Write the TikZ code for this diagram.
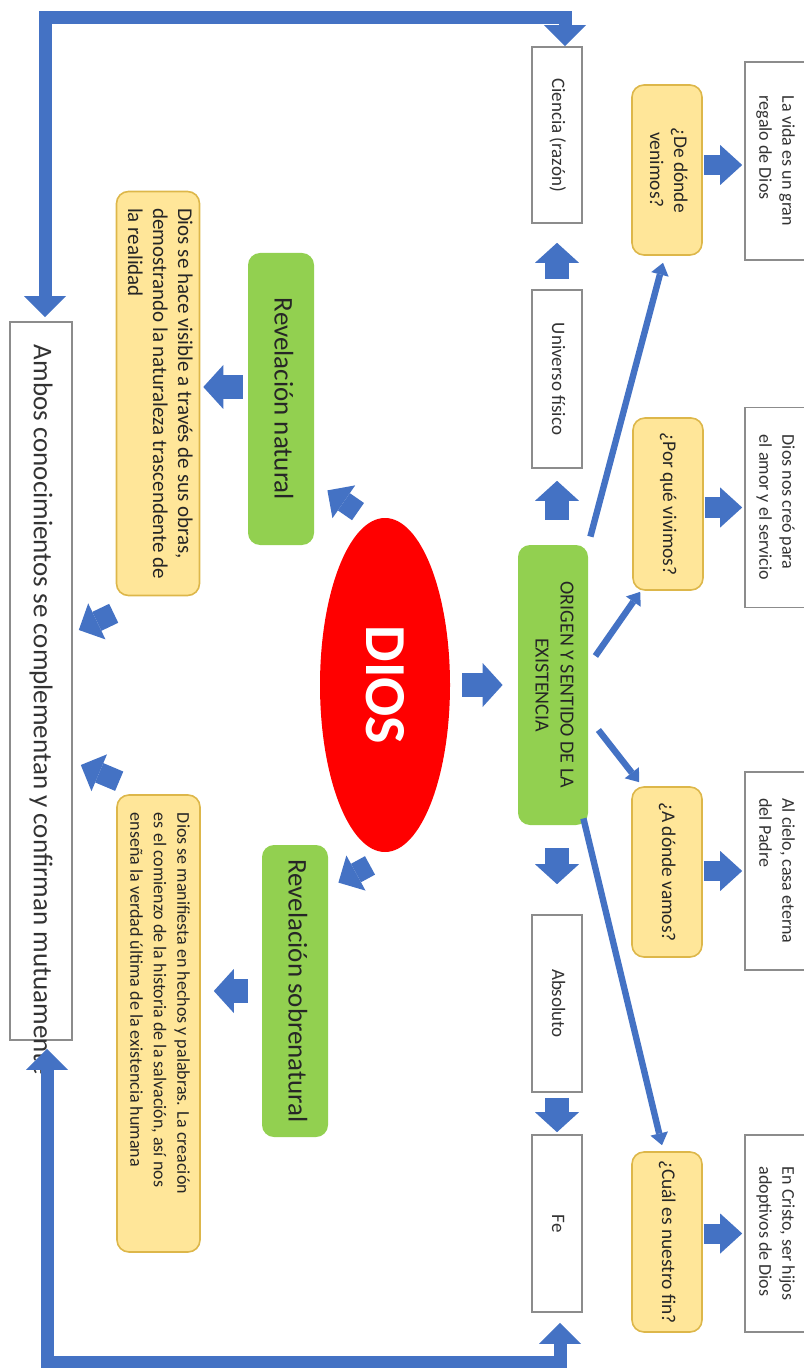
\documentclass[tikz,border=0pt]{standalone}
\usepackage{fontspec}
\setmainfont{Carlito}
\usepackage{graphicx}
\usetikzlibrary{shapes.geometric,arrows.meta,calc}
\definecolor{ablue}{HTML}{4472C4}
\definecolor{gfill}{HTML}{92D050}
\definecolor{yfill}{HTML}{FFE699}
\definecolor{ydraw}{HTML}{DDB74A}
\definecolor{bgray}{HTML}{8C8C8C}
\definecolor{dred}{HTML}{FF0000}
\newcommand{\vt}[2][l]{\rotatebox{-90}{\begin{tabular}{@{}#1@{}}#2\end{tabular}}}
\tikzset{
  wbox/.style={draw=bgray, line width=0.8pt, fill=white, inner sep=0pt, text=black!80,
    font=\fontsize{9.5}{12}\selectfont},
  gbox/.style={fill=gfill, rounded corners=6pt, inner sep=0pt, text=black!85},
  ybox/.style={fill=yfill, draw=ydraw, line width=0.8pt, rounded corners=6pt, inner sep=0pt, text=black!85},
  qbox/.style={ybox, minimum width=35pt, font=\fontsize{9.7}{12}\selectfont},
  abox/.style={wbox, minimum width=30.5pt, font=\fontsize{9}{11.5}\selectfont},
  blk/.style={draw=ablue, line width=12pt, -{Triangle[width=22pt,length=10pt,line width=0pt]}},
  dblk/.style={draw=ablue, line width=10.5pt, -{Triangle[width=20pt,length=10pt,line width=0pt]}},
  qblk/.style={draw=ablue, line width=10pt, -{Triangle[width=20pt,length=11pt,line width=0pt]}},
  thinarr/.style={draw=ablue, line width=3.2pt, -{Triangle[width=9pt,length=6pt,line width=0pt]}},
  frame/.style={draw=ablue, line width=6.5pt,
    {Triangle[width=21pt,length=10.5pt,line width=0pt]}-{Triangle[width=21pt,length=10.5pt,line width=0pt]}}
}
\begin{document}
\begin{tikzpicture}[x=0.5pt,y=0.5pt]
\useasboundingbox (0,0) rectangle (803,-1368);
% central column
\node[wbox, minimum width=25pt, minimum height=88pt] (ciencia) at (557,-135) {\vt{Ciencia (razón)}};
\node[wbox, minimum width=25pt, minimum height=89pt] (univ) at (557,-379) {\vt{Universo físico}};
\node[gbox, minimum width=35pt, minimum height=140pt, font=\fontsize{10}{12.5}\selectfont] (origen) at (553,-685)
  {\vt[c]{ORIGEN Y SENTIDO DE LA\\EXISTENCIA}};
\node[wbox, minimum width=25pt, minimum height=88.5pt] (absoluto) at (557,-1003.5) {\vt{Absoluto}};
\node[wbox, minimum width=25pt, minimum height=88.5pt] (fe) at (557,-1223.5) {\vt{Fe}};
% DIOS
\node[ellipse, fill=dred, minimum width=65pt, minimum height=167pt, inner sep=0pt, text=white,
  font=\fontsize{29}{34}\selectfont\bfseries] (dios) at (385,-685) {\rotatebox{-90}{DIOS}};
% revelations
\node[gbox, minimum width=33pt, minimum height=146pt, font=\fontsize{13.5}{16}\selectfont] (revnat) at (281,-399)
  {\vt{Revelación natural}};
\node[gbox, minimum width=33pt, minimum height=146pt, font=\fontsize{13.5}{16}\selectfont] (revsob) at (295,-991)
  {\vt{Revelación sobrenatural}};
\node[ybox, minimum width=41.5pt, minimum height=202pt, font=\fontsize{10.5}{12.5}\selectfont] (yel1) at (158,-393.5)
  {\vt{Dios se hace visible a través de sus obras,\\demostrando la naturaleza trascendente de\\la realidad}};
\node[ybox, minimum width=41.5pt, minimum height=228.5pt, font=\fontsize{9}{11.75}\selectfont] (yel2) at (158.5,-1023.5)
  {\rotatebox{-90}{\begin{tabular}{@{}l@{\hspace{20pt}}}Dios se manifiesta en hechos y palabras. La creación\\es el comienzo de la historia de la salvación, así nos\\enseña la verdad última de la existencia humana\end{tabular}}};
\node[wbox, minimum width=31pt, minimum height=359pt, font=\fontsize{13.5}{16}\selectfont] (ambos) at (41,-681)
  {\rotatebox{-90}{\makebox[336pt][l]{Ambos conocimientos se complementan y confirman mutuamente}}};
% questions
\node[qbox, minimum height=85pt] (q1) at (667,-170) {\vt[c]{¿De dónde\\venimos?}};
\node[qbox, minimum height=86pt] (q2) at (668,-504) {\vt[c]{¿Por qué vivimos?}};
\node[qbox, minimum height=85pt] (q3) at (667,-872) {\vt[c]{¿A dónde vamos?}};
\node[qbox, minimum height=90pt] (q4) at (667,-1242) {\vt[c]{¿Cuál es nuestro fin?}};
% answers
\node[abox, minimum height=99pt] (a1) at (775.5,-161) {\vt{La vida es un gran\\regalo de Dios}};
\node[abox, minimum height=100pt] (a2) at (775.5,-507.5) {\vt{Dios nos creó para\\el amor y el servicio}};
\node[abox, minimum height=99pt] (a3) at (775.5,-871) {\vt{Al cielo, casa eterna\\del Padre}};
\node[abox, minimum height=98.5pt] (a4) at (775.5,-1233.5) {\vt{En Cristo, ser hijos\\adoptivos de Dios}};
% block arrows
\draw[blk, shorten <=5pt, shorten >=9.5pt] (univ.north) -- (ciencia.south);
\draw[blk, shorten <=12.5pt, shorten >=6pt] (origen.north -| univ.south) -- (univ.south);
\draw[blk, shorten <=11.5pt, shorten >=15pt] (origen.south -| absoluto.north) -- (absoluto.north);
\draw[blk, shorten <=2.5pt, shorten >=1pt] (absoluto.south) -- (fe.north);
\draw[blk, shorten <=6pt, shorten >=7.5pt] (dios.east) -- (dios.east -| origen.west);
\draw[blk, shorten <=2.5pt, shorten >=1.5pt] ([yshift=6pt]revnat.west) -- ([yshift=6pt]revnat.west -| yel1.east);
\draw[blk, shorten <=7pt, shorten >=6.5pt] (revsob.west) -- (revsob.west -| yel2.east);
\draw[dblk] ([shift={(-27,6)}]dios.north) -- ([shift={(13,55)}]revnat.south east);
\draw[dblk] ([shift={(-15,-13)}]dios.south) -- ([shift={(10,-38)}]revsob.north east);
\draw[dblk] ([shift={(-2,-17)}]yel1.south west) -- ([shift={(6,51)}]ambos.east);
\draw[dblk] ([shift={(3,13)}]yel2.north west) -- ([shift={(8,-84)}]ambos.east);
\draw[qblk, shorten <=0.5pt, shorten >=1pt] ([yshift=-2pt]q1.east |- a1.west) -- ([yshift=-2pt]a1.west);
\foreach \i in {2,3,4}{
  \draw[qblk, shorten <=0.5pt, shorten >=1pt] (q\i.east |- a\i.west) -- (a\i.west);
}
% thin arrows
\draw[thinarr] ([shift={(2,8)}]origen.north east) -- ([shift={(-4,-7)}]q1.south);
\draw[thinarr] ([shift={(7,29)}]origen.east) -- ([shift={(8,-1)}]q2.south west);
\draw[thinarr] ([shift={(10,-45)}]origen.east) -- ([shift={(8,4)}]q3.north west);
\draw[thinarr] ([shift={(-5,7)}]origen.south east) -- ([shift={(-5,6)}]q4.north);
% frame
\coordinate (ambT) at ([shift={(4,4)}]ambos.north);
\coordinate (cieT) at ([shift={(8,0)}]ciencia.north);
\coordinate (topline) at (0,-18);
\draw[frame] (ambT) -- (ambT |- topline) -- (cieT |- topline) -- (cieT);
\coordinate (ambB) at ([shift={(6,-8)}]ambos.south);
\coordinate (feB) at ([shift={(3,-10)}]fe.south);
\coordinate (botline) at (0,-1362);
\draw[frame] (ambB) -- (ambB |- botline) -- (feB |- botline) -- (feB);
\end{tikzpicture}
\end{document}
